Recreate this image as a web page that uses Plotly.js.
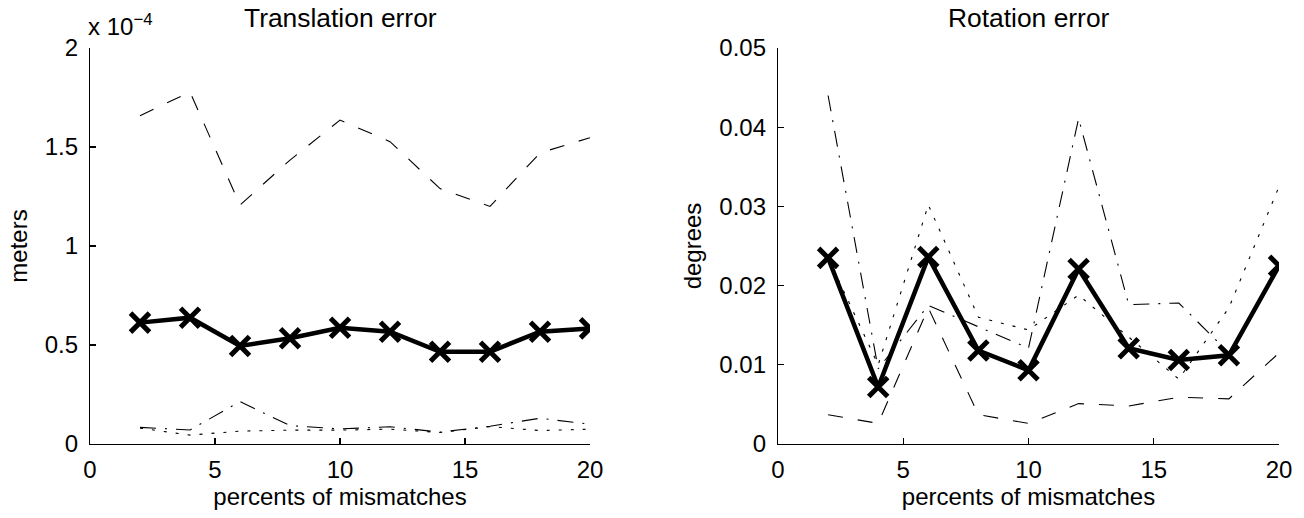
<!DOCTYPE html>
<html>
<head>
<meta charset="utf-8">
<script src="https://cdn.plot.ly/plotly-3.0.1.min.js"></script>
<style>html,body{margin:0;padding:0;background:#fff;}#chart{width:1304px;height:518px;}</style>
</head>
<body>
<div id="chart"></div>
<script>
// percents of mismatches
const mismatch = [2, 4, 6, 8, 10, 12, 14, 16, 18, 20];

// Translation error (meters, in units of 1e-4)
const transSolid   = [0.613, 0.638, 0.495, 0.534, 0.587, 0.567, 0.466, 0.466, 0.567, 0.584];
const transDashed  = [1.658, 1.778, 1.207, 1.434, 1.636, 1.527, 1.290, 1.200, 1.470, 1.547];
const transDashDot = [0.084, 0.071, 0.214, 0.093, 0.076, 0.087, 0.060, 0.090, 0.130, 0.100];
const transDotted  = [0.080, 0.045, 0.065, 0.070, 0.070, 0.075, 0.058, 0.088, 0.068, 0.075];

// Rotation error (degrees)
const rotSolid   = [0.0235, 0.0072, 0.0236, 0.0118, 0.0093, 0.0221, 0.0121, 0.0106, 0.0112, 0.0225];
const rotDashed  = [0.0037, 0.0026, 0.0172, 0.0037, 0.0026, 0.0051, 0.0048, 0.0059, 0.0057, 0.0115];
const rotDashDot = [0.0440, 0.0095, 0.0175, 0.0148, 0.0121, 0.0411, 0.0176, 0.0178, 0.0115, 0.0225];
const rotDotted  = [0.0235, 0.0100, 0.0302, 0.0160, 0.0144, 0.0188, 0.0135, 0.0082, 0.0172, 0.0325];

const xTicks = [0, 5, 10, 15, 20];
const transTicks = [0, 0.5, 1, 1.5, 2];
const transTickText = ['0', '0.5', '1', '1.5', '2'];
const rotTicks = [0, 0.01, 0.02, 0.03, 0.04, 0.05];
const rotTickText = ['0', '0.01', '0.02', '0.03', '0.04', '0.05'];

const FONT = 'Liberation Sans, Arial, Helvetica, sans-serif';
const FS = 24;
const FS_TITLE = 26.4;

function thin(x, y, dash, xa, ya) {
  return {x: x, y: y, xaxis: xa, yaxis: ya, mode: 'lines', type: 'scatter',
    line: {color: '#000', width: 1.1, dash: dash}, hoverinfo: 'skip', showlegend: false};
}
function thick(x, y, xa, ya) {
  return {x: x, y: y, xaxis: xa, yaxis: ya, mode: 'lines+markers', type: 'scatter',
    line: {color: '#000', width: 4.5},
    marker: {symbol: 'x-thin-open', size: 19, color: '#000', line: {color: '#000', width: 5}},
    hoverinfo: 'skip', showlegend: false};
}

const DASH = '15px,15px';
const DOT = '3px,9px';
const DASHDOT = '16px,9px,2px,9px';

const data = [
  thin(mismatch, transDashed, DASH, 'x', 'y'),
  thin(mismatch, transDashDot, DASHDOT, 'x', 'y'),
  thin(mismatch, transDotted, DOT, 'x', 'y'),
  thick(mismatch, transSolid, 'x', 'y'),
  thin(mismatch, rotDashed, DASH, 'x2', 'y2'),
  thin(mismatch, rotDashDot, DASHDOT, 'x2', 'y2'),
  thin(mismatch, rotDotted, DOT, 'x2', 'y2'),
  thick(mismatch, rotSolid, 'x2', 'y2')
];

const axCommon = {
  showgrid: false, zeroline: false, showline: true, linecolor: '#000', linewidth: 1.2,
  ticks: 'inside', ticklen: 6, tickwidth: 1.2, tickcolor: '#000',
  tickfont: {family: FONT, size: FS, color: '#000'}, mirror: false, fixedrange: true
};

const L0 = 0, L1 = 500 / 1189, R0 = 688 / 1189, R1 = 1;

const layout = {
  width: 1304, height: 518,
  margin: {l: 90, r: 25, t: 48, b: 74},
  paper_bgcolor: '#fff', plot_bgcolor: '#fff',
  font: {family: FONT, size: FS, color: '#000'},
  showlegend: false,
  xaxis: Object.assign({}, axCommon, {domain: [L0, L1], range: [0, 20], tickvals: xTicks,
    ticktext: xTicks.map(String), anchor: 'y', ticklabelstandoff: 4,
    title: {text: 'percents of mismatches', font: {family: FONT, size: FS}, standoff: 6}}),
  yaxis: Object.assign({}, axCommon, {domain: [0, 1], range: [0, 2], tickvals: transTicks,
    ticktext: transTickText, anchor: 'x', ticklabelstandoff: 6,
    title: {text: 'meters', font: {family: FONT, size: FS}, standoff: 10}}),
  xaxis2: Object.assign({}, axCommon, {domain: [R0, R1], range: [0, 20], tickvals: xTicks,
    ticktext: xTicks.map(String), anchor: 'y2', ticklabelstandoff: 4,
    title: {text: 'percents of mismatches', font: {family: FONT, size: FS}, standoff: 6}}),
  yaxis2: Object.assign({}, axCommon, {domain: [0, 1], range: [0, 0.05], tickvals: rotTicks,
    ticktext: rotTickText, anchor: 'x2', ticklabelstandoff: 6,
    title: {text: 'degrees', font: {family: FONT, size: FS}, standoff: 10}}),
  annotations: [
    {text: 'Translation error', xref: 'paper', yref: 'paper', x: (L0 + L1) / 2, y: 1,
      yshift: 30, xanchor: 'center', yanchor: 'middle', showarrow: false,
      font: {family: FONT, size: FS_TITLE}},
    {text: 'Rotation error', xref: 'paper', yref: 'paper', x: (R0 + R1) / 2, y: 1,
      yshift: 30, xanchor: 'center', yanchor: 'middle', showarrow: false,
      font: {family: FONT, size: FS_TITLE}},
    {text: 'x 10<sup>\u22124</sup>', xref: 'paper', yref: 'paper', x: L0, y: 1,
      yshift: 6, xshift: -4, xanchor: 'left', yanchor: 'bottom', showarrow: false,
      font: {family: FONT, size: FS}}
  ]
};

Plotly.newPlot('chart', data, layout, {staticPlot: true, displayModeBar: false});
</script>
</body>
</html>
